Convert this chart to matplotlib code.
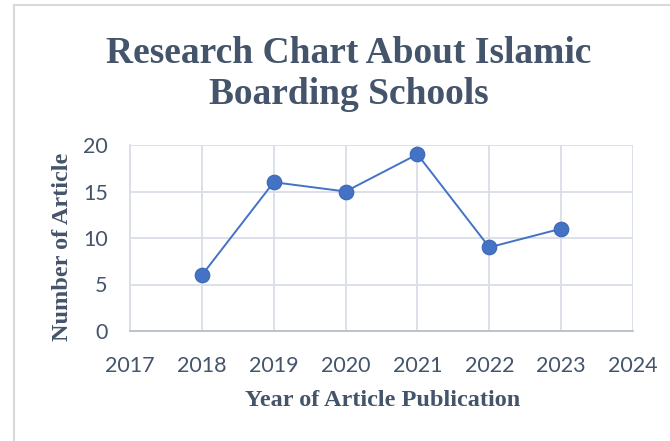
import matplotlib.pyplot as plt
from matplotlib.lines import Line2D

years = [2018, 2019, 2020, 2021, 2022, 2023]
articles = [6, 16, 15, 19, 9, 11]
x_ticks = [2017, 2018, 2019, 2020, 2021, 2022, 2023, 2024]
y_ticks = [0, 5, 10, 15, 20]

text_col = '#44546A'
grid_col = '#D9DEE7'

fig = plt.figure(figsize=(6.7, 4.41), dpi=100)
W, H = 670, 441
ax = fig.add_axes([130 / W, 1 - 331 / H, (633 - 130) / W, (331 - 145) / H])

ax.plot(years, articles, color='#4472C4', lw=1.4, marker='o', ms=10.5,
        markerfacecolor='#4472C4', markeredgecolor='#3A66B5', markeredgewidth=0.8,
        zorder=3, clip_on=False)

ax.set_xlim(2017, 2024)
ax.set_ylim(0, 20)
ax.set_xticks(x_ticks)
ax.set_yticks(y_ticks)
ax.grid(True, color=grid_col, lw=1.3)
ax.set_axisbelow(True)
for s in ['top', 'right']:
    ax.spines[s].set_visible(False)
ax.spines['left'].set_color(grid_col)
ax.spines['left'].set_linewidth(1.3)
ax.spines['bottom'].set_color('#B8C0CE')
ax.spines['bottom'].set_linewidth(1.3)
ax.tick_params(length=0, labelsize=15.5, labelcolor=text_col)
ax.tick_params(axis='x', pad=18)
ax.tick_params(axis='y', pad=16)
for lab in ax.get_xticklabels() + ax.get_yticklabels():
    lab.set_family('Lato')

fig.text(349 / W, 1 - 74 / H, 'Research Chart About Islamic\nBoarding Schools', ha='center', va='center',
         family='Liberation Serif', weight='bold', fontsize=27, color=text_col, linespacing=1.25)
fig.text(383 / W, 1 - 400 / H, 'Year of Article Publication', ha='center', va='center',
         family='Liberation Serif', weight='bold', fontsize=17.5, color=text_col)
fig.text(63 / W, 1 - 247 / H, 'Number of Article', ha='center', va='center', rotation=90,
         family='Liberation Serif', weight='bold', fontsize=17.5, color=text_col)

# chart frame
fig.add_artist(Line2D([14 / W, 14 / W], [0, 1 - 5 / H], color='#D9D9D9', lw=1.5))
fig.add_artist(Line2D([14 / W, 1], [1 - 5 / H, 1 - 5 / H], color='#D9D9D9', lw=1.5))

fig.savefig('out.png', dpi=100)
